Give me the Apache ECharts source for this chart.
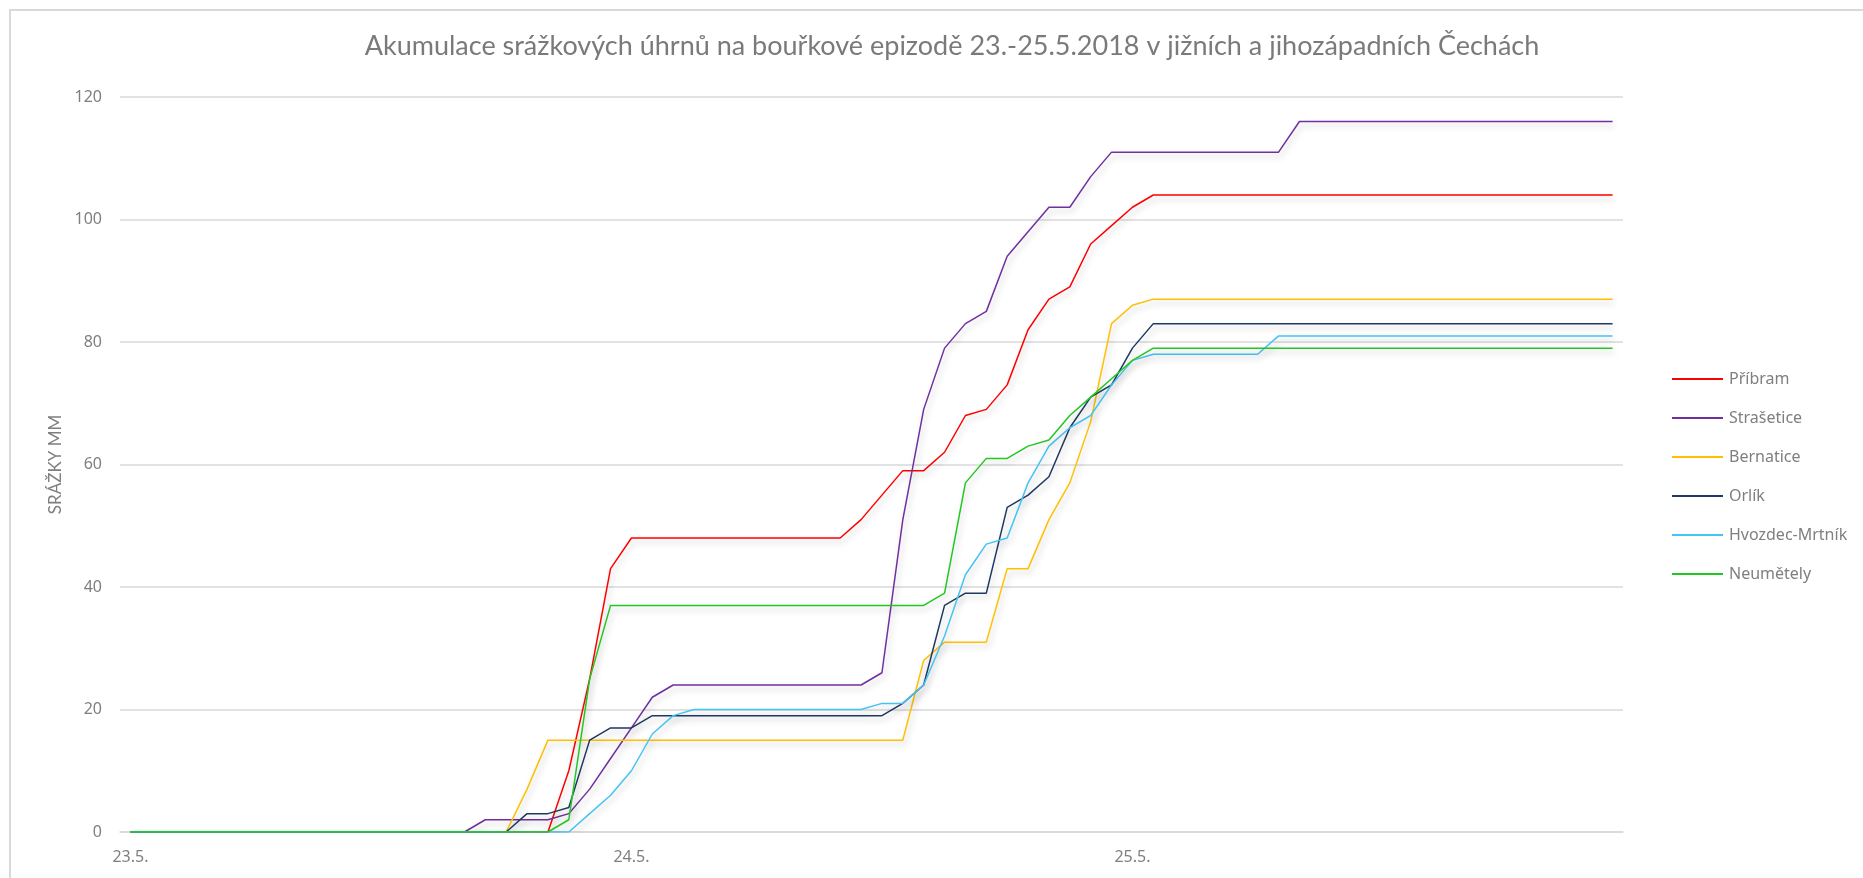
<!DOCTYPE html>
<html>
<head>
<meta charset="utf-8">
<title>Akumulace srážkových úhrnů</title>
<script src="https://cdn.jsdelivr.net/npm/echarts@6/dist/echarts.min.js"></script>
<style>
    html, body {
        margin: 0;
        padding: 0;
        background: #fff;
    }
    #chart_line {
        width: 1863px;
        height: 878px;
    }
</style>
</head>
<body>
<div id="chart_line"></div>
<script>
// dny na ose x, data jsou hodinová (24 hodnot na den)
const days = ['23.5.', '24.5.', '25.5.']
const legend = ['Příbram', 'Strašetice', 'Bernatice', 'Orlík', 'Hvozdec-Mrtník', 'Neumětely']
const lineColors = ['#ff0000', '#7030a0', '#ffc000', '#203864', '#45c3f2', '#22c722']

const pribram = [
    0, 0, 0, 0, 0, 0, 0, 0, 0, 0, 0, 0, 0, 0, 0, 0, 0, 0, 0, 0, 0, 10, 25, 43,
    48, 48, 48, 48, 48, 48, 48, 48, 48, 48, 48, 51, 55, 59, 59, 62, 68, 69, 73, 82, 87, 89, 96, 99,
    102, 104, 104, 104, 104, 104, 104, 104, 104, 104, 104, 104, 104, 104, 104, 104, 104, 104, 104, 104, 104, 104, 104, 104
]
const strasetice = [
    0, 0, 0, 0, 0, 0, 0, 0, 0, 0, 0, 0, 0, 0, 0, 0, 0, 2, 2, 2, 2, 3, 7, 12,
    17, 22, 24, 24, 24, 24, 24, 24, 24, 24, 24, 24, 26, 51, 69, 79, 83, 85, 94, 98, 102, 102, 107, 111,
    111, 111, 111, 111, 111, 111, 111, 111, 116, 116, 116, 116, 116, 116, 116, 116, 116, 116, 116, 116, 116, 116, 116, 116
]
const bernatice = [
    0, 0, 0, 0, 0, 0, 0, 0, 0, 0, 0, 0, 0, 0, 0, 0, 0, 0, 0, 7, 15, 15, 15, 15,
    15, 15, 15, 15, 15, 15, 15, 15, 15, 15, 15, 15, 15, 15, 28, 31, 31, 31, 43, 43, 51, 57, 67, 83,
    86, 87, 87, 87, 87, 87, 87, 87, 87, 87, 87, 87, 87, 87, 87, 87, 87, 87, 87, 87, 87, 87, 87, 87
]
const orlik = [
    0, 0, 0, 0, 0, 0, 0, 0, 0, 0, 0, 0, 0, 0, 0, 0, 0, 0, 0, 3, 3, 4, 15, 17,
    17, 19, 19, 19, 19, 19, 19, 19, 19, 19, 19, 19, 19, 21, 24, 37, 39, 39, 53, 55, 58, 66, 71, 73,
    79, 83, 83, 83, 83, 83, 83, 83, 83, 83, 83, 83, 83, 83, 83, 83, 83, 83, 83, 83, 83, 83, 83, 83
]
const hvozdec = [
    0, 0, 0, 0, 0, 0, 0, 0, 0, 0, 0, 0, 0, 0, 0, 0, 0, 0, 0, 0, 0, 0, 3, 6,
    10, 16, 19, 20, 20, 20, 20, 20, 20, 20, 20, 20, 21, 21, 24, 32, 42, 47, 48, 57, 63, 66, 68, 73,
    77, 78, 78, 78, 78, 78, 78, 81, 81, 81, 81, 81, 81, 81, 81, 81, 81, 81, 81, 81, 81, 81, 81, 81
]
const neumetely = [
    0, 0, 0, 0, 0, 0, 0, 0, 0, 0, 0, 0, 0, 0, 0, 0, 0, 0, 0, 0, 0, 2, 25, 37,
    37, 37, 37, 37, 37, 37, 37, 37, 37, 37, 37, 37, 37, 37, 37, 39, 57, 61, 61, 63, 64, 68, 71, 74,
    77, 79, 79, 79, 79, 79, 79, 79, 79, 79, 79, 79, 79, 79, 79, 79, 79, 79, 79, 79, 79, 79, 79, 79
]
const data = [pribram, strasetice, bernatice, orlik, hvozdec, neumetely]

// kategorie: den + hodina
const categories = []
days.forEach(day => {
    for (let h = 0; h < 24; h++) {
        categories.push(`${day} ${h}:00`)
    }
})

const textColor = '#7f7f7f'
const gridColor = '#d9d9d9'

const myCharts = echarts.init(document.getElementById('chart_line'), null, { renderer: 'canvas' })

const option = {
    animation: false,
    backgroundColor: '#fff',
    color: lineColors,
    textStyle: {
        fontFamily: 'Noto Sans'
    },
    title: {
        text: 'Akumulace srážkových úhrnů na bouřkové epizodě 23.-25.5.2018 v jižních a jihozápadních Čechách',
        left: 947,
        top: 28,
        textAlign: 'center',
        textStyle: {
            color: '#7a7a7a',
            fontSize: 27,
            fontWeight: 'normal',
            fontFamily: 'Lato'
        }
    },
    grid: {
        left: 120,
        right: 240,
        top: 97,
        bottom: 46,
        containLabel: false
    },
    legend: {
        orient: 'vertical',
        left: 1672,
        top: 369,
        padding: 0,
        icon: 'rect',
        itemWidth: 51,
        itemHeight: 2,
        itemGap: 19,
        textStyle: {
            color: textColor,
            fontSize: 16,
            lineHeight: 20,
            padding: [0, 0, 0, 1]
        },
        data: legend
    },
    xAxis: {
        type: 'category',
        boundaryGap: true,
        data: categories,
        axisLine: {
            lineStyle: {
                color: gridColor,
                width: 1.5
            }
        },
        axisTick: { show: false },
        axisLabel: {
            color: textColor,
            fontSize: 16,
            margin: 17,
            interval: (index) => index % 24 === 0,
            formatter: (value) => value.split(' ')[0]
        },
        splitLine: { show: false }
    },
    yAxis: {
        type: 'value',
        min: 0,
        max: 120,
        interval: 20,
        name: 'SRÁŽKY MM',
        nameLocation: 'middle',
        nameGap: 55,
        nameTextStyle: {
            color: textColor,
            fontSize: 17,
            fontFamily: 'Lato'
        },
        axisLine: { show: false },
        axisTick: { show: false },
        axisLabel: {
            color: textColor,
            fontSize: 16,
            margin: 18
        },
        splitLine: {
            lineStyle: {
                color: gridColor,
                width: 1.5
            }
        }
    },
    series: legend.map((name, index) => {
        return {
            name: name,
            type: 'line',
            data: data[index],
            symbol: 'none',
            lineStyle: {
                width: 1.5,
                shadowColor: 'rgba(0, 0, 0, 0.22)',
                shadowBlur: 6,
                shadowOffsetX: 2,
                shadowOffsetY: 4
            }
        }
    }),
    graphic: [
        {
            // rámeček grafu (vpravo a dole je oříznutý)
            type: 'rect',
            silent: true,
            shape: { x: 10, y: 10, width: 1900, height: 900 },
            style: {
                fill: 'none',
                stroke: gridColor,
                lineWidth: 2
            }
        }
    ]
}

myCharts.setOption(option)
</script>
</body>
</html>
